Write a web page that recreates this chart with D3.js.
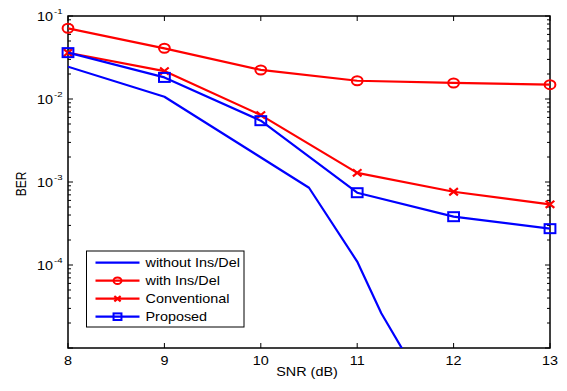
<!DOCTYPE html>
<html>
<head>
<meta charset="utf-8">
<script src="https://cdn.jsdelivr.net/npm/d3@7"></script>
<style>
  body { margin: 0; background: #fff; }
  text { font-family: Arial, "Liberation Sans", sans-serif; fill: #000; }
</style>
</head>
<body>
<svg id="chart" width="567" height="391"></svg>
<script>
// x values (dB) shared by the marked curves
var snr = [8, 9, 10, 11, 12, 13];
// BER
var berWithInsDel = [0.0711, 0.0408, 0.0224, 0.0166, 0.0156, 0.0149];
var berConventional = [0.0361, 0.0217, 0.0064, 0.00129, 0.000763, 0.000538];
var berProposed = [0.0362, 0.0182, 0.00548, 0.000743, 0.000382, 0.000274];
// the unmarked curve has its own x points
var snrWithout = [8, 9, 10.5, 11, 11.25, 11.5];
var berWithout = [0.0245, 0.01066, 0.000853, 0.00011, 0.0000262, 0.0000084];

var xTicks = [8, 9, 10, 11, 12, 13];
var yDecades = [-5, -4, -3, -2, -1];
var legendLabels = ["without Ins/Del", "with Ins/Del", "Conventional", "Proposed"];

(function(){
  var svg = d3.select("#chart");
  var pLeft = 68, pRight = 550, pTop = 16, pBottom = 348;
  // the picture is stretched sideways, text follows it
  var sx = 1.2;

  var x = d3.scaleLinear().domain([8, 13]).range([pLeft, pRight]);
  var y = d3.scaleLog().domain([1e-5, 1e-1]).range([pBottom, pTop]);

  var series = [
    {name: legendLabels[0], xs: snrWithout, ys: berWithout, color: "#0000ff", marker: "none"},
    {name: legendLabels[1], xs: snr, ys: berWithInsDel, color: "#ff0000", marker: "circle"},
    {name: legendLabels[2], xs: snr, ys: berConventional, color: "#ff0000", marker: "cross"},
    {name: legendLabels[3], xs: snr, ys: berProposed, color: "#0000ff", marker: "square"}
  ];

  /**
   * Adds a text that is stretched like the rest of the picture
   */
  var addText = function(g, tx, ty, str, size, anchor, rot){
    return g.append("text")
      .attr("transform", "translate(" + tx + "," + ty + ") scale(" + sx + ",1)" + (rot ? " rotate(" + rot + ")" : ""))
      .attr("font-size", size)
      .attr("text-anchor", anchor)
      .text(str);
  };

  /**
   * Draws one marker of the given kind at px,py
   */
  var drawMarker = function(g, kind, px, py, s, color){
    if(kind == "circle"){
      g.append("ellipse").attr("cx", px).attr("cy", py).attr("rx", s * sx).attr("ry", s)
        .attr("fill", "none").attr("stroke", color).attr("stroke-width", 2);
    } else if(kind == "square"){
      g.append("rect").attr("x", px - s * sx).attr("y", py - s).attr("width", 2 * s * sx).attr("height", 2 * s)
        .attr("fill", "none").attr("stroke", color).attr("stroke-width", 2);
    } else if(kind == "cross"){
      var d = s * 0.8;
      g.append("path")
        .attr("d", "M" + (px - d * sx) + "," + (py - d) + "L" + (px + d * sx) + "," + (py + d)
          + "M" + (px - d * sx) + "," + (py + d) + "L" + (px + d * sx) + "," + (py - d))
        .attr("stroke", color).attr("stroke-width", 2.2);
    }
  };

  svg.append("defs").append("clipPath").attr("id", "plotclip")
    .append("rect").attr("x", pLeft).attr("y", pTop).attr("width", pRight - pLeft).attr("height", pBottom - pTop);

  // ticks on all four sides, MATLAB style
  var axisG = svg.append("g");
  xTicks.forEach(function(t){
    axisG.append("line").attr("x1", x(t)).attr("x2", x(t)).attr("y1", pBottom).attr("y2", pBottom - 5).attr("stroke", "#000");
    axisG.append("line").attr("x1", x(t)).attr("x2", x(t)).attr("y1", pTop).attr("y2", pTop + 5).attr("stroke", "#000");
    addText(axisG, x(t), 365, t, 12, "middle");
  });
  yDecades.forEach(function(e){
    var v = Math.pow(10, e);
    var py = y(v);
    axisG.append("line").attr("x1", pLeft).attr("x2", pLeft + 5).attr("y1", py).attr("y2", py).attr("stroke", "#000");
    axisG.append("line").attr("x1", pRight).attr("x2", pRight - 5).attr("y1", py).attr("y2", py).attr("stroke", "#000");
    if(e > -5){
      addText(axisG, 53, py + 4.5, "10", 12, "end");
      addText(axisG, 54, py - 2, "-" + (-e), 8, "start");
    }
    if(e < -1){
      for(var k = 2; k < 10; k++){
        var my = y(k * v);
        axisG.append("line").attr("x1", pLeft).attr("x2", pLeft + 3).attr("y1", my).attr("y2", my).attr("stroke", "#000");
        axisG.append("line").attr("x1", pRight).attr("x2", pRight - 3).attr("y1", my).attr("y2", my).attr("stroke", "#000");
      }
    }
  });
  axisG.append("rect").attr("x", pLeft).attr("y", pTop).attr("width", pRight - pLeft).attr("height", pBottom - pTop)
    .attr("fill", "none").attr("stroke", "#000").attr("stroke-width", 1.5);

  addText(svg, 307, 376, "SNR (dB)", 12, "middle");
  addText(svg, 26, 184, "BER", 12, "middle", -90);

  // curves
  var line = d3.line().x(function(d){ return x(d[0]); }).y(function(d){ return y(d[1]); });
  var plotG = svg.append("g");
  series.forEach(function(s){
    var pts = d3.zip(s.xs, s.ys);
    plotG.append("path").datum(pts).attr("d", line).attr("clip-path", "url(#plotclip)")
      .attr("fill", "none").attr("stroke", s.color).attr("stroke-width", 2.2).attr("stroke-linejoin", "round");
    pts.forEach(function(p){
      drawMarker(plotG, s.marker, x(p[0]), y(p[1]), 4.5, s.color);
    });
  });

  // legend
  var lg = svg.append("g");
  lg.append("rect").attr("x", 86.5).attr("y", 251).attr("width", 157.5).attr("height", 76)
    .attr("fill", "#fff").attr("stroke", "#000").attr("stroke-width", 1);
  series.forEach(function(s, i){
    var ry = 262.7 + i * 18;
    lg.append("line").attr("x1", 95.5).attr("x2", 139.5).attr("y1", ry).attr("y2", ry)
      .attr("stroke", s.color).attr("stroke-width", 2.2);
    drawMarker(lg, s.marker, 117.5, ry, 3.3, s.color);
    addText(lg, 145.5, ry + 4.5, s.name, 12, "start");
  });
})();
</script>
</body>
</html>
